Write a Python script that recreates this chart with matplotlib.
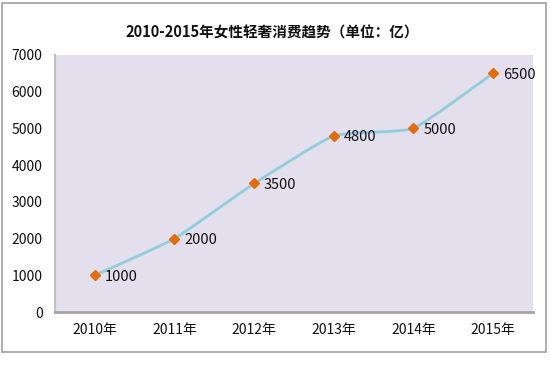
import numpy as np
import matplotlib
matplotlib.use('Agg')
import matplotlib.pyplot as plt
from matplotlib.path import Path
from matplotlib.patches import PathPatch, Rectangle

plt.rcParams['font.family'] = ['Noto Sans CJK SC', 'DejaVu Sans']

years = ['2010年', '2011年', '2012年', '2013年', '2014年', '2015年']
values = [1000, 2000, 3500, 4800, 5000, 6500]
title = '2010-2015年女性轻奢消费趋势（单位：亿）'

fig = plt.figure(figsize=(5.5, 3.76), dpi=100)
ax = fig.add_axes([0.1, 0.170, 0.869, 0.684])
ax.set_facecolor('#E4DFEC')

x = np.arange(len(values))
y = np.array(values, dtype=float)

# lightly smoothed line (bezier between the points)
verts = [(x[0], y[0])]
codes = [Path.MOVETO]
t = 0.07
for i in range(len(x) - 1):
    x0, y0 = (x[i - 1], y[i - 1]) if i > 0 else (x[i], y[i])
    x3, y3 = (x[i + 2], y[i + 2]) if i + 2 < len(x) else (x[i + 1], y[i + 1])
    c1 = (x[i] + (x[i + 1] - x0) * t, y[i] + (y[i + 1] - y0) * t)
    c2 = (x[i + 1] - (x3 - x[i]) * t, y[i + 1] - (y3 - y[i]) * t)
    verts += [c1, c2, (x[i + 1], y[i + 1])]
    codes += [Path.CURVE4] * 3
ax.add_patch(PathPatch(Path(verts, codes), facecolor='none',
                       edgecolor='#92CDDC', lw=2.0, zorder=2))

ax.plot(x, y, ls='none', marker='D', ms=5.5, color='#E46C0A', zorder=3)
for xi, yi in zip(x, y):
    ax.annotate(f'{int(yi)}', (xi, yi), xytext=(7, -1), textcoords='offset points',
                va='center', ha='left', fontsize=10.5, color='#111111')

ax.set_xlim(-0.5, 5.5)
ax.set_ylim(0, 7000)
ax.set_xticks(x)
ax.set_xticklabels(years)
ax.set_yticks(range(0, 7001, 1000))
ax.tick_params(length=0, labelsize=10, colors='#111111')
ax.tick_params(axis='y', pad=9)
ax.tick_params(axis='x', pad=8)
for s in ['top', 'right']:
    ax.spines[s].set_visible(False)
ax.spines['left'].set_color('#C0C0C0')
ax.spines['left'].set_linewidth(1.5)
ax.spines['bottom'].set_color('#A6A6A6')
ax.spines['bottom'].set_linewidth(2)

fig.text(272 / 550, 1 - 33 / 376, title, ha='center', va='center',
         fontsize=10.5, fontweight='bold', color='#111111')

fig.patches.append(Rectangle((2 / 550, 1 - 352 / 376), 544 / 550, 349 / 376,
                             transform=fig.transFigure, fill=False,
                             edgecolor='#A0A0A0', lw=1.2))

plt.savefig('out.png', dpi=100)
plt.close()
